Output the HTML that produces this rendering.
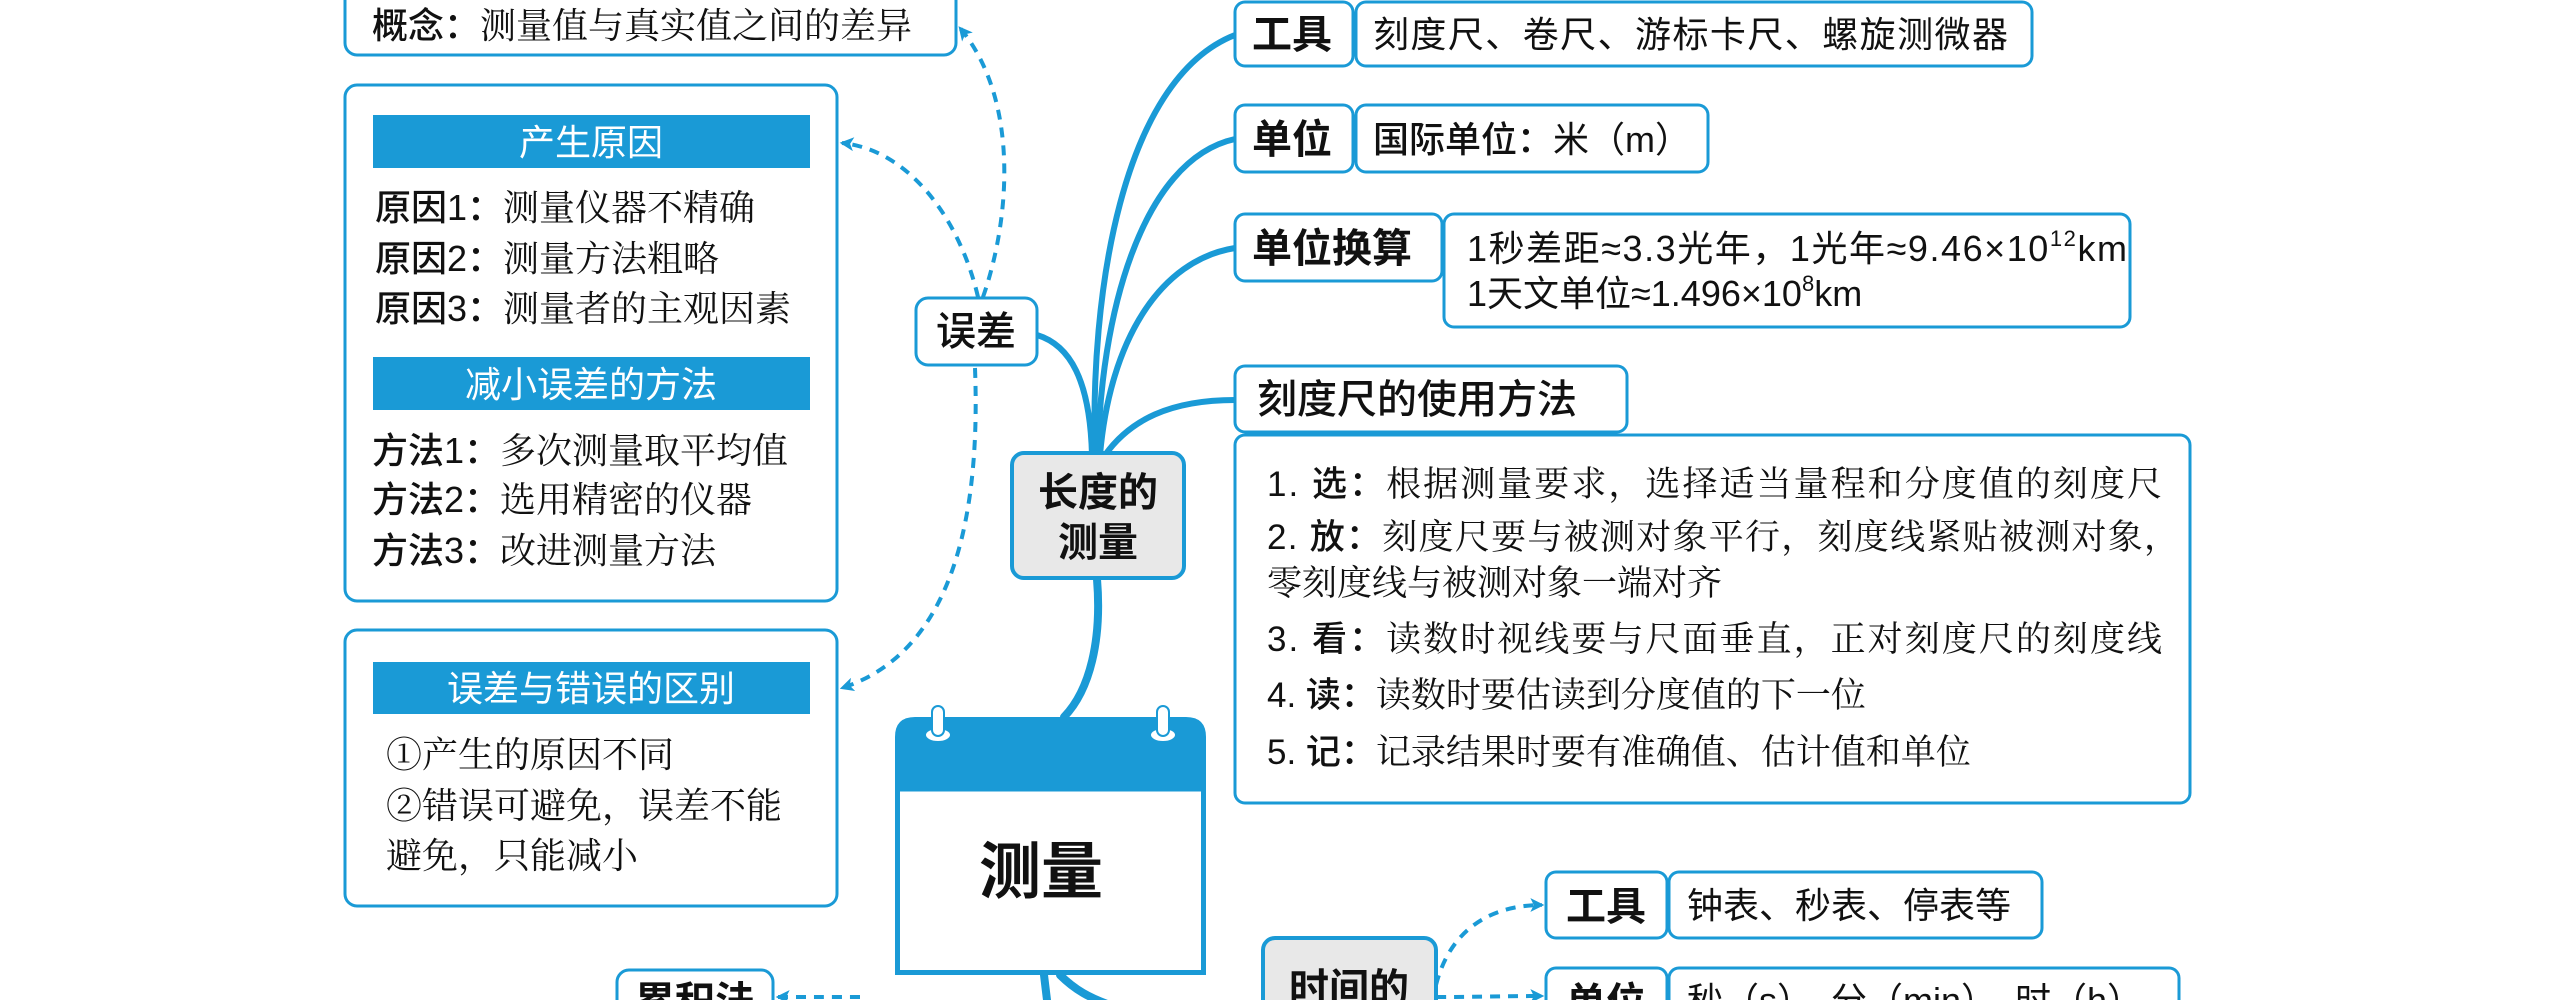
<!DOCTYPE html>
<html><head><meta charset="utf-8"><style>
html,body{margin:0;padding:0;background:#fff;}
svg{display:block;}
text{font-family:"Liberation Sans","Noto Sans CJK SC",sans-serif;fill:#111;}
.s{font-family:"Liberation Serif","Noto Serif CJK SC",serif;}
.b{font-weight:bold;}
.m{font-weight:500;}
</style></head><body>
<svg width="2552" height="1000" viewBox="0 0 2552 1000" xmlns="http://www.w3.org/2000/svg">
<defs>
<marker id="ar" markerWidth="14" markerHeight="14" refX="10" refY="6" orient="auto" markerUnits="userSpaceOnUse" viewBox="0 0 12 12">
<path d="M0,0 L12,6 L0,12 L3,6 Z" fill="#1a9ad6"/></marker>
</defs>
<g fill="none" stroke="#1a9ad6" stroke-width="6" stroke-linecap="round">
<path d="M1095,455 C1090,300 1120,80 1235,35"/>
<path d="M1098,455 C1100,320 1140,160 1235,139"/>
<path d="M1100,455 C1110,340 1160,260 1235,248"/>
<path d="M1105,455 C1130,420 1170,400 1235,400"/>
<path d="M1092,455 C1090,380 1070,345 1037,335"/>
<path d="M1097,579 C1102,640 1090,690 1064,717" stroke-width="8"/>
<path d="M1044,975 L1047,1000" stroke-width="8"/>
<path d="M1060,975 C1075,990 1090,998 1110,1005" stroke-width="8"/>
</g>
<g fill="none" stroke="#1a9ad6" stroke-width="4" stroke-dasharray="10,8">
<path d="M983,297 C1010,220 1020,100 960,28" marker-end="url(#ar)"/>
<path d="M978,297 C960,220 910,150 842,143" marker-end="url(#ar)"/>
<path d="M975,368 C980,500 960,650 842,688" marker-end="url(#ar)"/>
<path d="M1436,985 C1450,930 1490,905 1542,905" marker-end="url(#ar)"/>
<path d="M1436,997 C1480,997 1510,996 1542,996" marker-end="url(#ar)"/>
<path d="M860,997 C830,997 800,997 778,997" marker-end="url(#ar)"/>
</g>
<g fill="#fff" stroke="#1a9ad6" stroke-width="3">
<rect x="345" y="-20" width="611" height="75" rx="12"/>
<rect x="345" y="85" width="492" height="516" rx="12"/>
<rect x="345" y="630" width="492" height="276" rx="12"/>
<rect x="916" y="298" width="121" height="67" rx="12"/>
<rect x="1012" y="453" width="172" height="125" rx="12" fill="#e8e8e8" stroke-width="4"/>
<rect x="1235" y="2" width="118" height="64" rx="10"/>
<rect x="1356" y="2" width="676" height="64" rx="10"/>
<rect x="1235" y="105" width="118" height="67" rx="10"/>
<rect x="1356" y="105" width="352" height="67" rx="10"/>
<rect x="1235" y="214" width="207" height="67" rx="10"/>
<rect x="1444" y="214" width="686" height="113" rx="10"/>
<rect x="1235" y="366" width="392" height="66" rx="10"/>
<rect x="1235" y="435" width="955" height="368" rx="10"/>
<rect x="1546" y="872" width="121" height="66" rx="10"/>
<rect x="1669" y="872" width="373" height="66" rx="10"/>
<rect x="1546" y="968" width="121" height="66" rx="10"/>
<rect x="1669" y="968" width="510" height="66" rx="10"/>
<rect x="1263" y="938" width="173" height="90" rx="12" fill="#e8e8e8" stroke-width="4"/>
<rect x="617" y="970" width="156" height="60" rx="12"/>
</g>
<g fill="#1a9ad6">
<rect x="373" y="115" width="437" height="53"/>
<rect x="373" y="357" width="437" height="53"/>
<rect x="373" y="662" width="437" height="52"/>
</g>
<g font-size="36" text-anchor="middle">
<text x="591" y="155" style="fill:#fff">产生原因</text>
<text x="591" y="397" style="fill:#fff">减小误差的方法</text>
<text x="591" y="701" style="fill:#fff">误差与错误的区别</text>
</g>
<path d="M895,789 L895,737 Q895,717 915,717 L1186,717 Q1206,717 1206,737 L1206,789 Z" fill="#1a9ad6"/>
<rect x="897.5" y="789" width="306" height="183.5" fill="#fff" stroke="#1a9ad6" stroke-width="5"/>
<g fill="#fff" stroke="#1a9ad6" stroke-width="2">
<ellipse cx="938" cy="735" rx="13" ry="7"/>
<rect x="932" y="706" width="12" height="30" rx="6"/>
<ellipse cx="1163" cy="735" rx="13" ry="7"/>
<rect x="1157" y="706" width="12" height="30" rx="6"/>
</g>
<text x="1041" y="893" font-size="62" class="b" text-anchor="middle">测量</text>
<g font-size="36">
<text x="372" y="38" class="m">概念：<tspan class="s" style="font-weight:normal">测量值与真实值之间的差异</tspan></text>
<text x="375" y="220" class="m">原因1：<tspan class="s" style="font-weight:normal">测量仪器不精确</tspan></text>
<text x="375" y="271" class="m">原因2：<tspan class="s" style="font-weight:normal">测量方法粗略</tspan></text>
<text x="375" y="321" class="m">原因3：<tspan class="s" style="font-weight:normal">测量者的主观因素</tspan></text>
<text x="372" y="463" class="m">方法1：<tspan class="s" style="font-weight:normal">多次测量取平均值</tspan></text>
<text x="372" y="512" class="m">方法2：<tspan class="s" style="font-weight:normal">选用精密的仪器</tspan></text>
<text x="372" y="563" class="m">方法3：<tspan class="s" style="font-weight:normal">改进测量方法</tspan></text>
<text x="386" y="767" class="s">①产生的原因不同</text>
<text x="386" y="818" class="s">②错误可避免，误差不能</text>
<text x="386" y="868" class="s">避免，只能减小</text>
<text x="976" y="345" font-size="40" text-anchor="middle" class="m">误差</text>
</g>
<g class="b" font-size="40" text-anchor="middle">
<text x="1098" y="506">长度的</text>
<text x="1098" y="556">测量</text>
<text x="1349" y="1002">时间的</text>
</g>
<g font-size="40" class="b">
<text x="1252" y="48">工具</text>
<text x="1252" y="153">单位</text>
<text x="1252" y="262">单位换算</text>
<text x="1257" y="413" class="m" style="font-weight:500">刻度尺的使用方法</text>
<text x="1566" y="920">工具</text>
<text x="1566" y="1016">单位</text>
<text x="695" y="1015" text-anchor="middle">累积法</text>
</g>
<g font-size="36" class="s">
<text x="1373" y="47" textLength="635">刻度尺、卷尺、游标卡尺、螺旋测微器</text>
<text x="1373" y="152"><tspan class="m" style="font-family:'Liberation Sans','Noto Sans CJK SC',sans-serif">国际单位：</tspan>米（m）</text>
<text x="1687" y="918">钟表、秒表、停表等</text>
<text x="1687" y="1013">秒（s）、分（min）、时（h）</text>
</g>
<g font-size="36" class="s">
<text x="1467" y="261" textLength="660">1秒差距≈3.3光年，1光年≈9.46×10<tspan font-size="22" dy="-15">12</tspan><tspan dy="15">km</tspan></text>
<text x="1467" y="306">1天文单位≈1.496×10<tspan font-size="22" dy="-15">8</tspan><tspan dy="15">km</tspan></text>
</g>
<g font-size="35">
<text x="1267" y="496" textLength="895"><tspan class="m">1. 选：</tspan><tspan class="s">根据测量要求，选择适当量程和分度值的刻度尺</tspan></text>
<text x="1267" y="549" textLength="912"><tspan class="m">2. 放：</tspan><tspan class="s">刻度尺要与被测对象平行，刻度线紧贴被测对象，</tspan></text>
<text x="1267" y="595" class="s">零刻度线与被测对象一端对齐</text>
<text x="1267" y="651" textLength="895"><tspan class="m">3. 看：</tspan><tspan class="s">读数时视线要与尺面垂直，正对刻度尺的刻度线</tspan></text>
<text x="1267" y="707"><tspan class="m">4. 读：</tspan><tspan class="s">读数时要估读到分度值的下一位</tspan></text>
<text x="1267" y="764"><tspan class="m">5. 记：</tspan><tspan class="s">记录结果时要有准确值、估计值和单位</tspan></text>
</g>
</svg>
</body></html>
